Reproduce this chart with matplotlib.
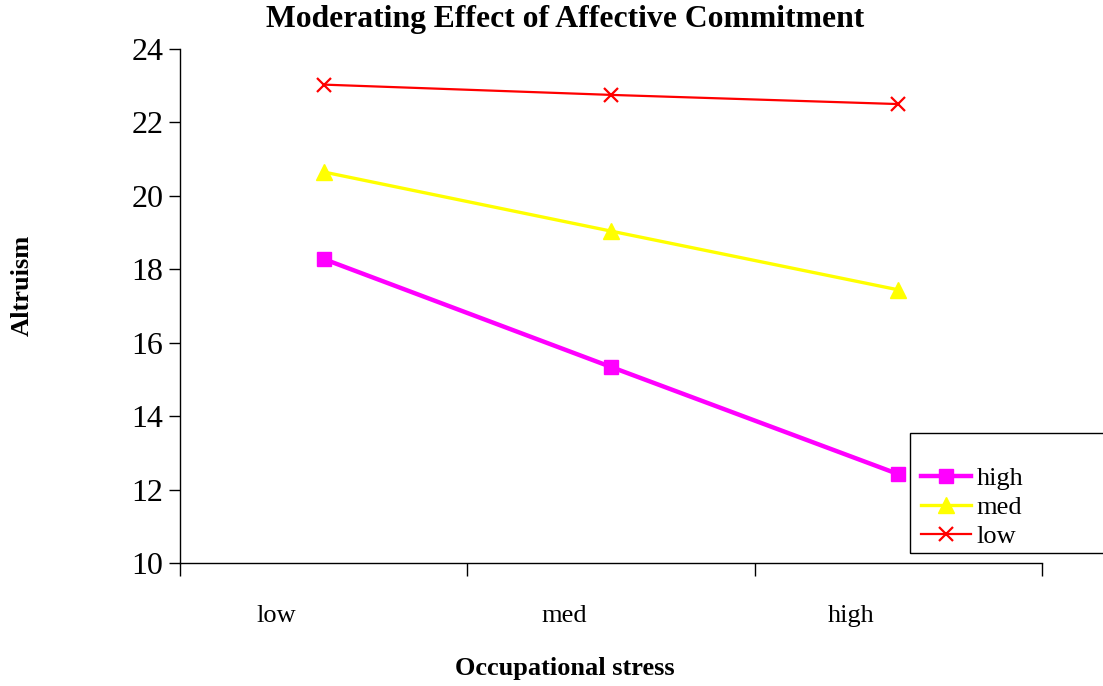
import matplotlib
matplotlib.use("Agg")
import matplotlib.pyplot as plt
from matplotlib.patches import Rectangle
from matplotlib.transforms import ScaledTranslation

categories = ["low", "med", "high"]
series_names = ["high", "med", "low"]
values_high = [18.28, 15.34, 12.42]
values_med = [20.65, 19.04, 17.44]
values_low = [23.03, 22.75, 22.50]
y_ticks = [10, 12, 14, 16, 18, 20, 22, 24]

W, H = 1103, 686
fig = plt.figure(figsize=(W / 100, H / 100), dpi=100)
plt.rcParams["font.family"] = ["Liberation Serif", "DejaVu Serif"]

left, right, top, bottom = 180, 1042, 49, 563
ax = fig.add_axes([left / W, 1 - bottom / H, (right - left) / W, (bottom - top) / H])

x = [0.5, 1.5, 2.5]
ax.plot(x, values_high, color="#FF00FF", lw=3.2, marker="s", ms=10,
        label=series_names[0])
ax.plot(x, values_med, color="#FFFF00", lw=2.4, marker="^", ms=11,
        label=series_names[1])
ax.plot(x, values_low, color="#FF0000", lw=1.6, marker="x", ms=10, mew=1.6,
        label=series_names[2])

ax.set_xlim(0, 3)
ax.set_ylim(10, 24)
ax.set_yticks(y_ticks)
ax.tick_params(axis="y", labelsize=23, length=8, width=1, direction="out", pad=4)

ax.set_xticks(x)
ax.set_xticklabels(categories, fontsize=19)
ax.tick_params(axis="x", which="major", length=0, pad=30)
ax.set_xticks([0, 1, 2, 3], minor=True)
ax.tick_params(axis="x", which="minor", length=9, width=1, direction="out")
shift = ScaledTranslation(-47 / 100, 0, fig.dpi_scale_trans)
for lbl in ax.get_xticklabels():
    lbl.set_transform(lbl.get_transform() + shift)

for s in ["top", "right"]:
    ax.spines[s].set_visible(False)
for s in ["left", "bottom"]:
    ax.spines[s].set_linewidth(1)

fig.text(565 / W, 1 - 20 / H, "Moderating Effect of Affective Commitment",
         ha="center", va="center", fontsize=22.8, fontweight="bold")
fig.text(565 / W, 1 - 669 / H, "Occupational stress",
         ha="center", va="center", fontsize=19, fontweight="bold")
fig.text(22 / W, 1 - 285 / H, "Altruism", rotation=90,
         ha="center", va="center", fontsize=19, fontweight="bold")

# Legend frame running off the right edge
fig.add_artist(Rectangle((910 / W, 1 - 553 / H), 200 / W, 120 / H,
                         transform=fig.transFigure, fill=False,
                         edgecolor="black", lw=1))
leg = fig.legend(loc="upper left", bbox_to_anchor=(921 / W, 1 - 467 / H),
                 frameon=False, fontsize=19, handlelength=1.9,
                 handletextpad=0.2, labelspacing=0.2, borderaxespad=0,
                 borderpad=0)

fig.savefig("out.png", dpi=100)
